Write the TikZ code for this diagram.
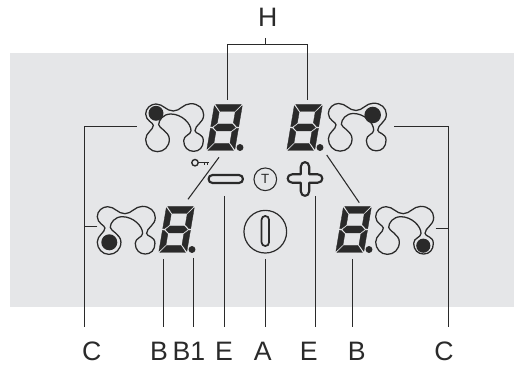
\documentclass[tikz,border=0pt]{standalone}
\usepackage{fontspec}
\setmainfont{Liberation Sans}
\definecolor{panel}{HTML}{E5E6E8}
\definecolor{ink}{HTML}{2A2A2A}
\tikzset{
  x=0.75pt,y=-0.75pt,
  lead/.style={draw=ink,line width=0.8pt},
  icon/.style={draw=ink,line width=1.05pt},
  thick icon/.style={draw=ink,line width=1.6pt,line join=round},
  seg/.style={fill=ink,draw=ink,line width=0.25pt,line join=round},
  label/.style={text=ink,font=\fontsize{20}{20}\selectfont,anchor=base,inner sep=0pt},
  digit/.pic={
    \begin{scope}[xslant=0.17]
      \path[seg] (1.2,0)--(26.8,0)--(21,7)--(7,7)--cycle;
      \path[seg] (1.2,46)--(26.8,46)--(21,39)--(7,39)--cycle;
      \path[seg] (3.2,23)--(7,19.5)--(21,19.5)--(24.8,23)--(21,26.5)--(7,26.5)--cycle;
      \path[seg] (0,1.2)--(6,8)--(6,18.3)--(1.6,22.2)--(0,22.2)--cycle;
      \path[seg] (28,1.2)--(22,8)--(22,18.3)--(26.4,22.2)--(28,22.2)--cycle;
      \path[seg] (0,44.8)--(6,38)--(6,27.7)--(1.6,23.8)--(0,23.8)--cycle;
      \path[seg] (28,44.8)--(22,38)--(22,27.7)--(26.4,23.8)--(28,23.8)--cycle;
    \end{scope}
    \fill[ink] (25.5,43) circle[radius=2.6pt];
  },
  blobshape/.pic={
    \draw[draw=ink,line width=0.95pt,x=0.25pt,y=-0.25pt]
      (197,72) .. controls (197,55) and (212,42) .. (228,42)
      .. controls (250,42) and (258,63) .. (280,63)
      .. controls (300,63) and (310,41) .. (332,41)
      .. controls (355,41) and (371,55) .. (371,75)
      .. controls (371,98) and (345,105) .. (345,122)
      .. controls (345,132) and (370,130) .. (370,152)
      .. controls (370,172) and (358,184) .. (341,184)
      .. controls (324,184) and (311,172) .. (311,152)
      .. controls (311,135) and (333,135) .. (333,122)
      .. controls (333,100) and (305,72) .. (272,72)
      .. controls (250,72) and (236,90) .. (236,104)
      .. controls (236,114) and (268,125) .. (268,148)
      .. controls (268,170) and (252,185) .. (232,185)
      .. controls (212,185) and (197,168) .. (197,148)
      .. controls (197,128) and (220,120) .. (220,106)
      .. controls (220,98) and (197,92) .. (197,72) -- cycle;
  }
}
\begin{document}
\begin{tikzpicture}
\useasboundingbox (0,0) rectangle (514,366);
\fill[panel] (10,53.5) rectangle (513.5,307);

% displays
\pic at (214.5,104.5) {digit};
\pic at (294.5,104.5) {digit};
\pic at (166.5,206.5) {digit};
\pic at (343.5,206.5) {digit};

% zone outlines
\pic at (80,90) {blobshape};
\pic at (262.7,89.5) {blobshape};
\pic at (31.6,192.7) {blobshape};
\pic at (310,192.7) {blobshape};
\fill[ink] (156,113.3) circle[radius=5.6pt];
\fill[ink] (372.7,115) circle[radius=6.2pt];
\fill[ink] (109.3,242.3) circle[radius=6pt];
\fill[ink] (423.3,245.7) circle[radius=5.3pt];

% key
\draw[icon] (195,162.7) circle[radius=2.4pt];
\draw[icon] (198.2,162.7) -- (208.5,162.7);
\draw[draw=ink,line width=0.8pt] (204.3,162.7) -- (204.3,165.5) (207.7,162.7) -- (207.7,165.5);

% minus, plus, T, power
\draw[thick icon,rounded corners=3pt] (208.5,175) rectangle (243,183);
\draw[thick icon]
  (300.8,174.3) -- (300.8,166.7) .. controls (300.8,160.7) and (309.2,160.7) .. (309.2,166.7)
  -- (309.2,174.3) -- (317.8,174.3) .. controls (323.8,174.3) and (323.8,182.7) .. (317.8,182.7)
  -- (309.2,182.7) -- (309.2,191.3) .. controls (309.2,197.3) and (300.8,197.3) .. (300.8,191.3)
  -- (300.8,182.7) -- (292.2,182.7) .. controls (286.2,182.7) and (286.2,174.3) .. (292.2,174.3) -- cycle;
\node[circle,draw=ink,line width=0.8pt,minimum size=17pt,inner sep=0pt,text=ink,font=\fontsize{10}{10}\selectfont] (tbtn) at (265.3,179.3) {T};
\node[circle,draw=ink,line width=0.9pt,minimum size=32pt,inner sep=0pt] (power) at (265.3,231.7) {};
\draw[thick icon,line width=1.3pt,rounded corners=2.7pt] (261.6,216) rectangle (269,246);

% labels
\node[label] (lH) at (267.7,26.7) {H};
\node[label] (lC1) at (91.7,360.7) {C};
\node[label] (lB1) at (159,360.7) {B};
\node[label] (lB2) at (189,360.7) {B1};
\node[label] (lE1) at (224,360.7) {E};
\node[label] (lA) at (262.7,360.7) {A};
\node[label] (lE2) at (308.7,360.7) {E};
\node[label] (lB3) at (356.7,360.7) {B};
\node[label] (lC2) at (444,360.7) {C};

% leader lines
\coordinate (hs) at (265.5,38);
\coordinate (hm) at (265.5,44.5);
\coordinate (hl) at (227.5,100);
\coordinate (hr) at (307.5,100);
\draw[lead] (hs) -- (hm);
\draw[lead] (hl) |- (hm) -| (hr);
\coordinate (c1a) at (136.7,126.5);
\coordinate (c1b) at (84.5,327);
\coordinate (c1t) at (97.3,226.5);
\draw[lead] (c1a) -| (c1b);
\draw[lead] (c1t) -- (c1t -| c1b);
\coordinate (c2a) at (394,126.5);
\coordinate (c2b) at (448.5,327);
\coordinate (c2t) at (435.7,228.5);
\draw[lead] (c2a) -| (c2b);
\draw[lead] (c2t) -- (c2t -| c2b);
\coordinate (b1a) at (163.5,259); \coordinate (b1b) at (163.5,327);
\coordinate (b2a) at (193.5,258); \coordinate (b2b) at (193.5,327);
\coordinate (e1a) at (224.5,196); \coordinate (e1b) at (224.5,327);
\coordinate (aa) at (265.5,259); \coordinate (ab) at (265.5,327);
\coordinate (e2a) at (315.5,196); \coordinate (e2b) at (315.5,327);
\coordinate (b3a) at (352.5,259); \coordinate (b3b) at (352.5,327);
\draw[lead] (b1a) -- (b1b);
\draw[lead] (b2a) -- (b2b);
\draw[lead] (e1a) -- (e1b);
\draw[lead] (aa) -- (ab);
\draw[lead] (e2a) -- (e2b);
\draw[lead] (b3a) -- (b3b);
\coordinate (d1a) at (219,157.3); \coordinate (d1b) at (188,199.3);
\coordinate (d2a) at (326.7,155); \coordinate (d2b) at (359.3,202.7);
\draw[lead] (d1a) -- (d1b);
\draw[lead] (d2a) -- (d2b);
\end{tikzpicture}
\end{document}
